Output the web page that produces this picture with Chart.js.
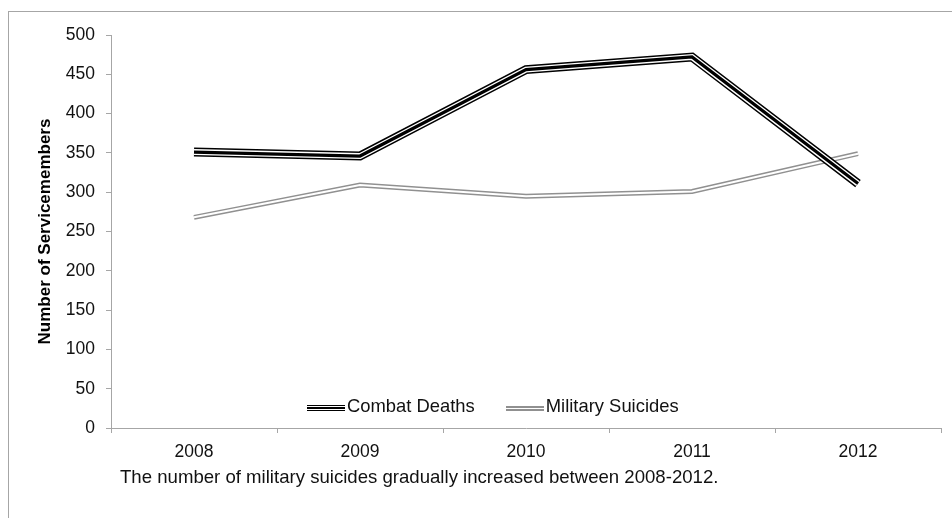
<!DOCTYPE html>
<html>
<head>
<meta charset="utf-8">
<script src="https://cdn.jsdelivr.net/npm/chart.js@4"></script>
<style>
    body { margin: 0; overflow: hidden; background: #fff; font-family: "Liberation Sans", Arial, sans-serif; }
    #wrap { position: relative; width: 952px; height: 518px; }
    #frame { position: absolute; left: 8px; top: 11px; width: 980px; height: 540px; border: 1px solid #a6a6a6; }
    #chart { position: absolute; left: 0; top: 0; }
    .legend { position: absolute; top: 395px; left: 307px; display: flex; align-items: center; font-size: 18.4px; color: #111; }
    .legend .item { display: flex; align-items: center; margin-right: 31px; }
    .legend .swatch { width: 38px; margin-right: 2px; position: relative; top: 2px; }
    .swatch.combat { height: 6px; background: linear-gradient(#000 0 1.2px, #fff 1.2px 2px, #000 2px 4px, #fff 4px 4.8px, #000 4.8px 6px); }
    .swatch.suicide { height: 5px; background: linear-gradient(#909090 0 1.5px, #fff 1.5px 3.5px, #909090 3.5px 5px); }
    #caption { position: absolute; left: 120px; top: 466px; font-size: 18.6px; color: #111; white-space: nowrap; }
</style>
</head>
<body>
<div id="wrap">
    <div id="frame"></div>
    <canvas id="chart" width="952" height="518"></canvas>
    <div class="legend">
        <div class="item"><div class="swatch combat"></div><span>Combat Deaths</span></div>
        <div class="item"><div class="swatch suicide"></div><span>Military Suicides</span></div>
    </div>
    <div id="caption">The number of military suicides gradually increased between 2008-2012.</div>
</div>

<script>
/* =========================
   DATA
========================= */

const years = ["2008", "2009", "2010", "2011", "2012"];
const combatDeaths = [351, 346, 456, 472, 311];
const militarySuicides = [268, 309, 295, 301, 349];
const yMin = 0;
const yMax = 500;
const yStep = 50;

/* =========================
   LINE LAYERS (double / triple strokes)
========================= */

function layer(data, color, width, order) {
    return {
        data: data,
        borderColor: color,
        borderWidth: width,
        pointRadius: 0,
        tension: 0,
        fill: false,
        borderJoinStyle: "miter",
        borderCapStyle: "butt",
        order: order
    };
}

const axisGray = "#a6a6a6";

new Chart(document.getElementById("chart"), {

    type: "line",

    data: {
        labels: years,
        datasets: [
            layer(militarySuicides, "#909090", 5, 6),
            layer(militarySuicides, "#ffffff", 2, 5),
            layer(combatDeaths, "#000000", 9, 4),
            layer(combatDeaths, "#ffffff", 6, 3),
            layer(combatDeaths, "#000000", 3.2, 2)
        ]
    },

    options: {
        responsive: false,
        animation: false,
        layout: {
            padding: { left: 0, right: 11, top: 35, bottom: 50 }
        },
        plugins: {
            legend: { display: false },
            tooltip: { enabled: false }
        },
        scales: {
            x: {
                offset: true,
                grid: {
                    offset: true,
                    drawOnChartArea: false,
                    drawTicks: true,
                    tickLength: 5,
                    color: axisGray
                },
                border: { color: axisGray, width: 1 },
                ticks: {
                    color: "#111",
                    padding: 9,
                    font: { family: "Liberation Sans", size: 17.5 }
                },
                afterFit: function (scale) { scale.height = 40; }
            },
            y: {
                min: yMin,
                max: yMax,
                grid: {
                    drawOnChartArea: false,
                    drawTicks: true,
                    tickLength: 5,
                    color: axisGray
                },
                border: { color: axisGray, width: 1 },
                ticks: {
                    stepSize: yStep,
                    color: "#111",
                    padding: 11,
                    font: { family: "Liberation Sans", size: 17.5 }
                },
                title: {
                    display: true,
                    text: "Number of Servicemembers",
                    color: "#000",
                    padding: { top: 35, bottom: 0 },
                    font: { family: "Liberation Sans", size: 17, weight: "bold" }
                },
                afterFit: function (scale) { scale.width = 111; }
            }
        }
    }
});
</script>
</body>
</html>
